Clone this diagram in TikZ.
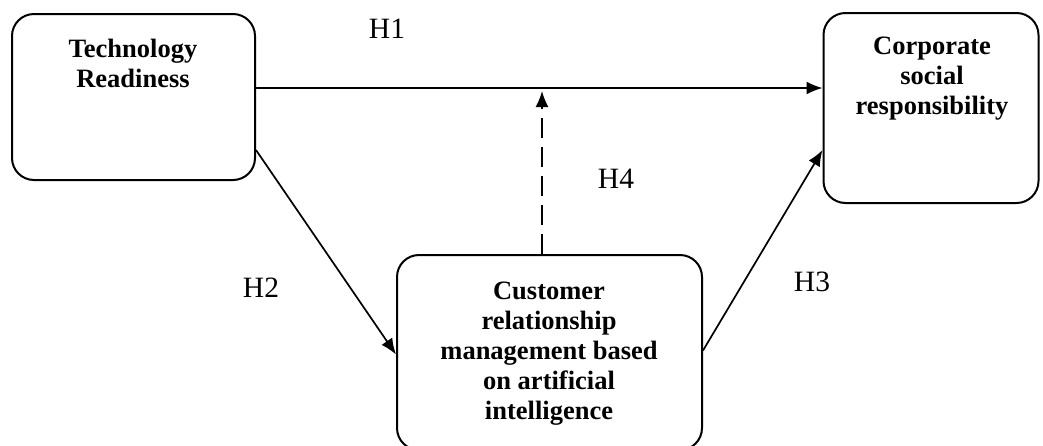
\documentclass[tikz,border=0pt]{standalone}
\usepackage{fontspec}
\setmainfont{Liberation Serif}
\usepackage{tikz}
\usetikzlibrary{arrows.meta}
\usetikzlibrary{calc}

\begin{document}
\begin{tikzpicture}[x=1pt,y=-1pt,
    main node/.style={draw,line width=2pt,rounded corners=22pt,inner sep=0pt},
    box text/.style={anchor=north,align=center,inner sep=0pt,font=\fontsize{26.5}{30}\selectfont\bfseries},
    hyp/.style={inner sep=0pt,font=\fontsize{29.5}{30}\selectfont},
    link/.style={line width=1.7pt,-{Latex[length=16pt,width=13pt]}}]
    \useasboundingbox (0,0) rectangle (1043,445);

    \node[main node,minimum width=243pt,minimum height=166pt] (tr) at (133.5,97) {};
    \node[main node,minimum width=215pt,minimum height=190pt] (csr) at (931,108) {};
    \node[main node,minimum width=305pt,minimum height=195pt] (crm) at (549.5,352.5) {};

    \node[box text] (trtext) at (133,39) {Technology\\Readiness};
    \node[box text] (csrtext) at (932,37) {Corporate\\social\\responsibility};
    \node[box text] (crmtext) at (549,282) {Customer\\relationship\\management based\\on artificial\\intelligence};

    \node[hyp] (h1) at (387,29) {H1};
    \node[hyp] (h2) at (261,288) {H2};
    \node[hyp] (h3) at (812,282) {H3};
    \node[hyp] (h4) at (616,179) {H4};

    % direct and mediated paths
    \coordinate (mid) at ($([xshift=-7.5pt]crm.north)+(0,-163)$);
    \draw[link] ([yshift=9pt]tr.east) -- ([yshift=9pt]tr.east -| csr.west);
    \draw[link] ([yshift=-53pt]tr.east) -- ([yshift=-2pt]crm.west);
    \draw[link] ([yshift=2pt]crm.east) -- ([yshift=-42pt]csr.west);
    \draw[link,dash pattern=on 20pt off 9pt] ([xshift=-7.5pt]crm.north) -- (mid);
\end{tikzpicture}
\end{document}
